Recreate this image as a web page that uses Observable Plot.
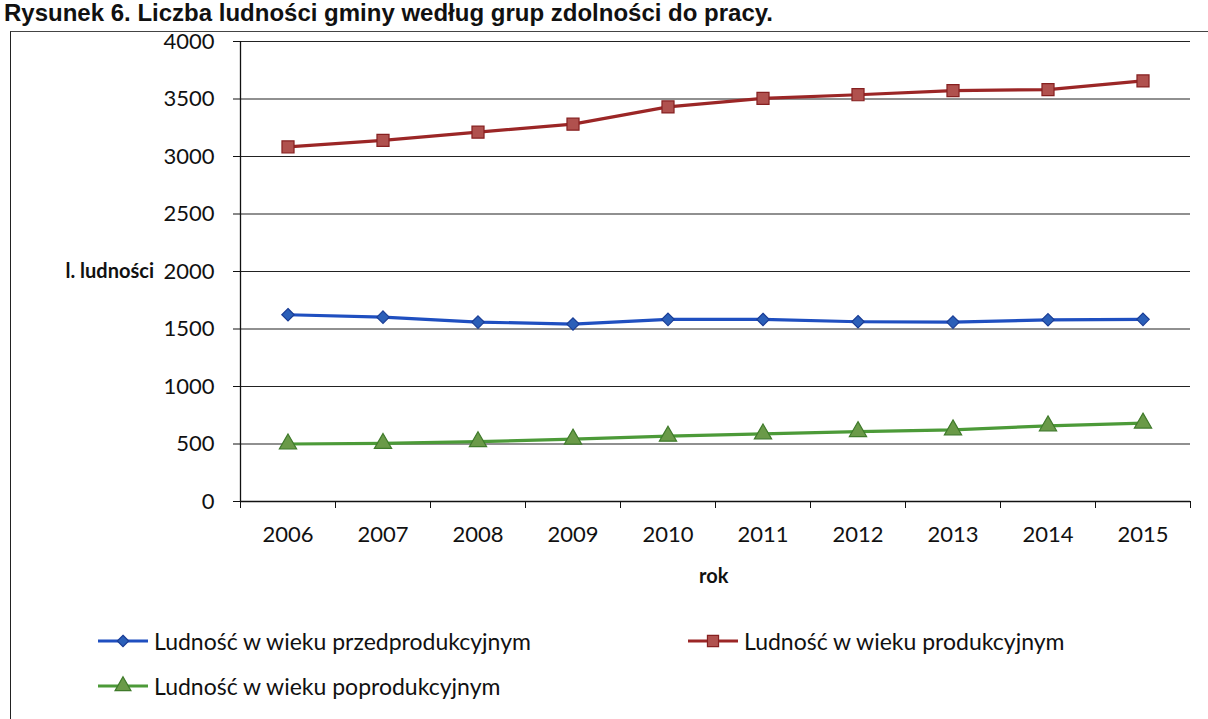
<!DOCTYPE html>
<html>
<head>
<meta charset="utf-8">
<script src="https://cdn.jsdelivr.net/npm/d3@7"></script>
<script src="https://cdn.jsdelivr.net/npm/@observablehq/plot@0.6"></script>
<style>
  html, body { margin: 0; padding: 0; background: #fff; }
  #wrap { position: relative; width: 1208px; height: 719px; overflow: hidden; font-family: Lato, "Open Sans", sans-serif; }
  #title { position: absolute; left: 4px; top: 0px; font-family: "Liberation Sans", Arial, sans-serif; font-weight: bold; font-size: 24px; line-height: 26px; color: #111; white-space: nowrap; }
  #frame { position: absolute; left: 10px; top: 31px; width: 1198px; height: 700px; border-left: 1.5px solid #222; border-top: 1.5px solid #444; }
  #chart { position: absolute; left: 0; top: 0; }
  .txt { position: absolute; white-space: nowrap; color: #111; }
  .ylab { font-weight: bold; font-size: 20px; }
  .leg { position: absolute; display: flex; align-items: center; font-size: 23px; color: #111; white-space: nowrap; }
  .leg svg { margin-right: 4px; }
</style>
</head>
<body>
<div id="wrap">
  <div id="title">Rysunek 6. Liczba ludności gminy według grup zdolności do pracy.</div>
  <div id="frame"></div>
  <div id="chart"></div>
  <div class="txt ylab" id="ylab">l. ludności</div>
  <div class="txt ylab" id="xlab">rok</div>
  <div id="legend"></div>
</div>
<script>
const years = [2006, 2007, 2008, 2009, 2010, 2011, 2012, 2013, 2014, 2015];
const przedprodukcyjny = [1624, 1603, 1560, 1543, 1584, 1583, 1563, 1560, 1580, 1584];
const produkcyjny = [3083, 3140, 3212, 3281, 3431, 3506, 3537, 3573, 3582, 3657];
const poprodukcyjny = [500, 505, 520, 543, 568, 588, 608, 623, 658, 682];
const yTicks = [0, 500, 1000, 1500, 2000, 2500, 3000, 3500, 4000];
const seriesNames = [
  "Ludność w wieku przedprodukcyjnym",
  "Ludność w wieku produkcyjnym",
  "Ludność w wieku poprodukcyjnym"
];

const styles = [
  {line: "#1f4fc0", fill: "#2b5fb8", stroke: "#1a3d96", symbol: "diamond2", r: 5.6},
  {line: "#9b2626", fill: "#b0514e", stroke: "#862020", symbol: "square", r: 6.8},
  {line: "#4c9a38", fill: "#6a9a48", stroke: "#3f7a2a", symbol: "triangle", r: 6.4}
];
const valuesList = [przedprodukcyjny, produkcyjny, poprodukcyjny];

const rows = [];
seriesNames.forEach((name, s) => years.forEach((yr, i) => rows.push({series: name, s, year: yr, value: valuesList[s][i]})));

const boundaries = [years[0] - 0.5, ...years.map(y => y + 0.5)];

const marks = [
  Plot.gridY(yTicks, {stroke: "#222", strokeOpacity: 1, strokeWidth: 1.2}),
  Plot.ruleX([boundaries[0]], {stroke: "#111", strokeWidth: 1.3}),
  Plot.ruleY([0], {stroke: "#111", strokeWidth: 1.3}),
  Plot.axisY({ticks: yTicks, tickSize: 7, tickPadding: 19, fontSize: 22, fill: "#111", stroke: "#111", tickFormat: d => String(d), label: null}),
  Plot.axisX({ticks: boundaries, tickSize: 7, tickFormat: () => "", stroke: "#111", label: null}),
  Plot.axisX({ticks: years, tickSize: 0, tickPadding: 25, fontSize: 22, fill: "#111", tickFormat: d => String(d), label: null})
];
seriesNames.forEach((name, s) => {
  const data = rows.filter(d => d.s === s);
  marks.push(Plot.line(data, {x: "year", y: "value", stroke: styles[s].line, strokeWidth: 3.2}));
  marks.push(Plot.dot(data, {x: "year", y: "value", symbol: () => styles[s].symbol, r: styles[s].r, fill: styles[s].fill, stroke: styles[s].stroke, strokeWidth: 1.2}));
});

const chart = Plot.plot({
  width: 1208,
  height: 719,
  marginLeft: 240,
  marginRight: 18,
  marginTop: 41,
  marginBottom: 218,
  style: {fontFamily: "Lato, 'Open Sans', sans-serif", background: "transparent", overflow: "visible"},
  x: {type: "linear", domain: [boundaries[0], boundaries[boundaries.length - 1]], axis: null},
  y: {domain: [0, 4000], axis: null},
  marks
});
document.getElementById("chart").appendChild(chart);

const x = chart.scale("x"), y = chart.scale("y");

const ylab = document.getElementById("ylab");
ylab.style.right = (1208 - 154) + "px";
ylab.style.top = (y.apply(2000) - 13) + "px";

const xlab = document.getElementById("xlab");
xlab.style.left = "699px";
xlab.style.top = "563px";

// Legend
const legend = document.getElementById("legend");
const legPos = [{left: 96, top: 626}, {left: 686, top: 626}, {left: 96, top: 671}];
seriesNames.forEach((name, s) => {
  const st = styles[s];
  const div = document.createElement("div");
  div.className = "leg";
  div.style.left = legPos[s].left + "px";
  div.style.top = legPos[s].top + "px";
  const sym = d3.symbol(st.symbol === "diamond2" ? d3.symbolDiamond2 : st.symbol === "square" ? d3.symbolSquare : d3.symbolTriangle, Math.PI * st.r * st.r * 0.85)();
  div.innerHTML = `<svg width="54" height="30"><line x1="2" x2="52" y1="15" y2="15" stroke="${st.line}" stroke-width="3.2"/><path transform="translate(27,15)" d="${sym}" fill="${st.fill}" stroke="${st.stroke}" stroke-width="1.2"/></svg><span>${name}</span>`;
  legend.appendChild(div);
});
</script>
</body>
</html>
